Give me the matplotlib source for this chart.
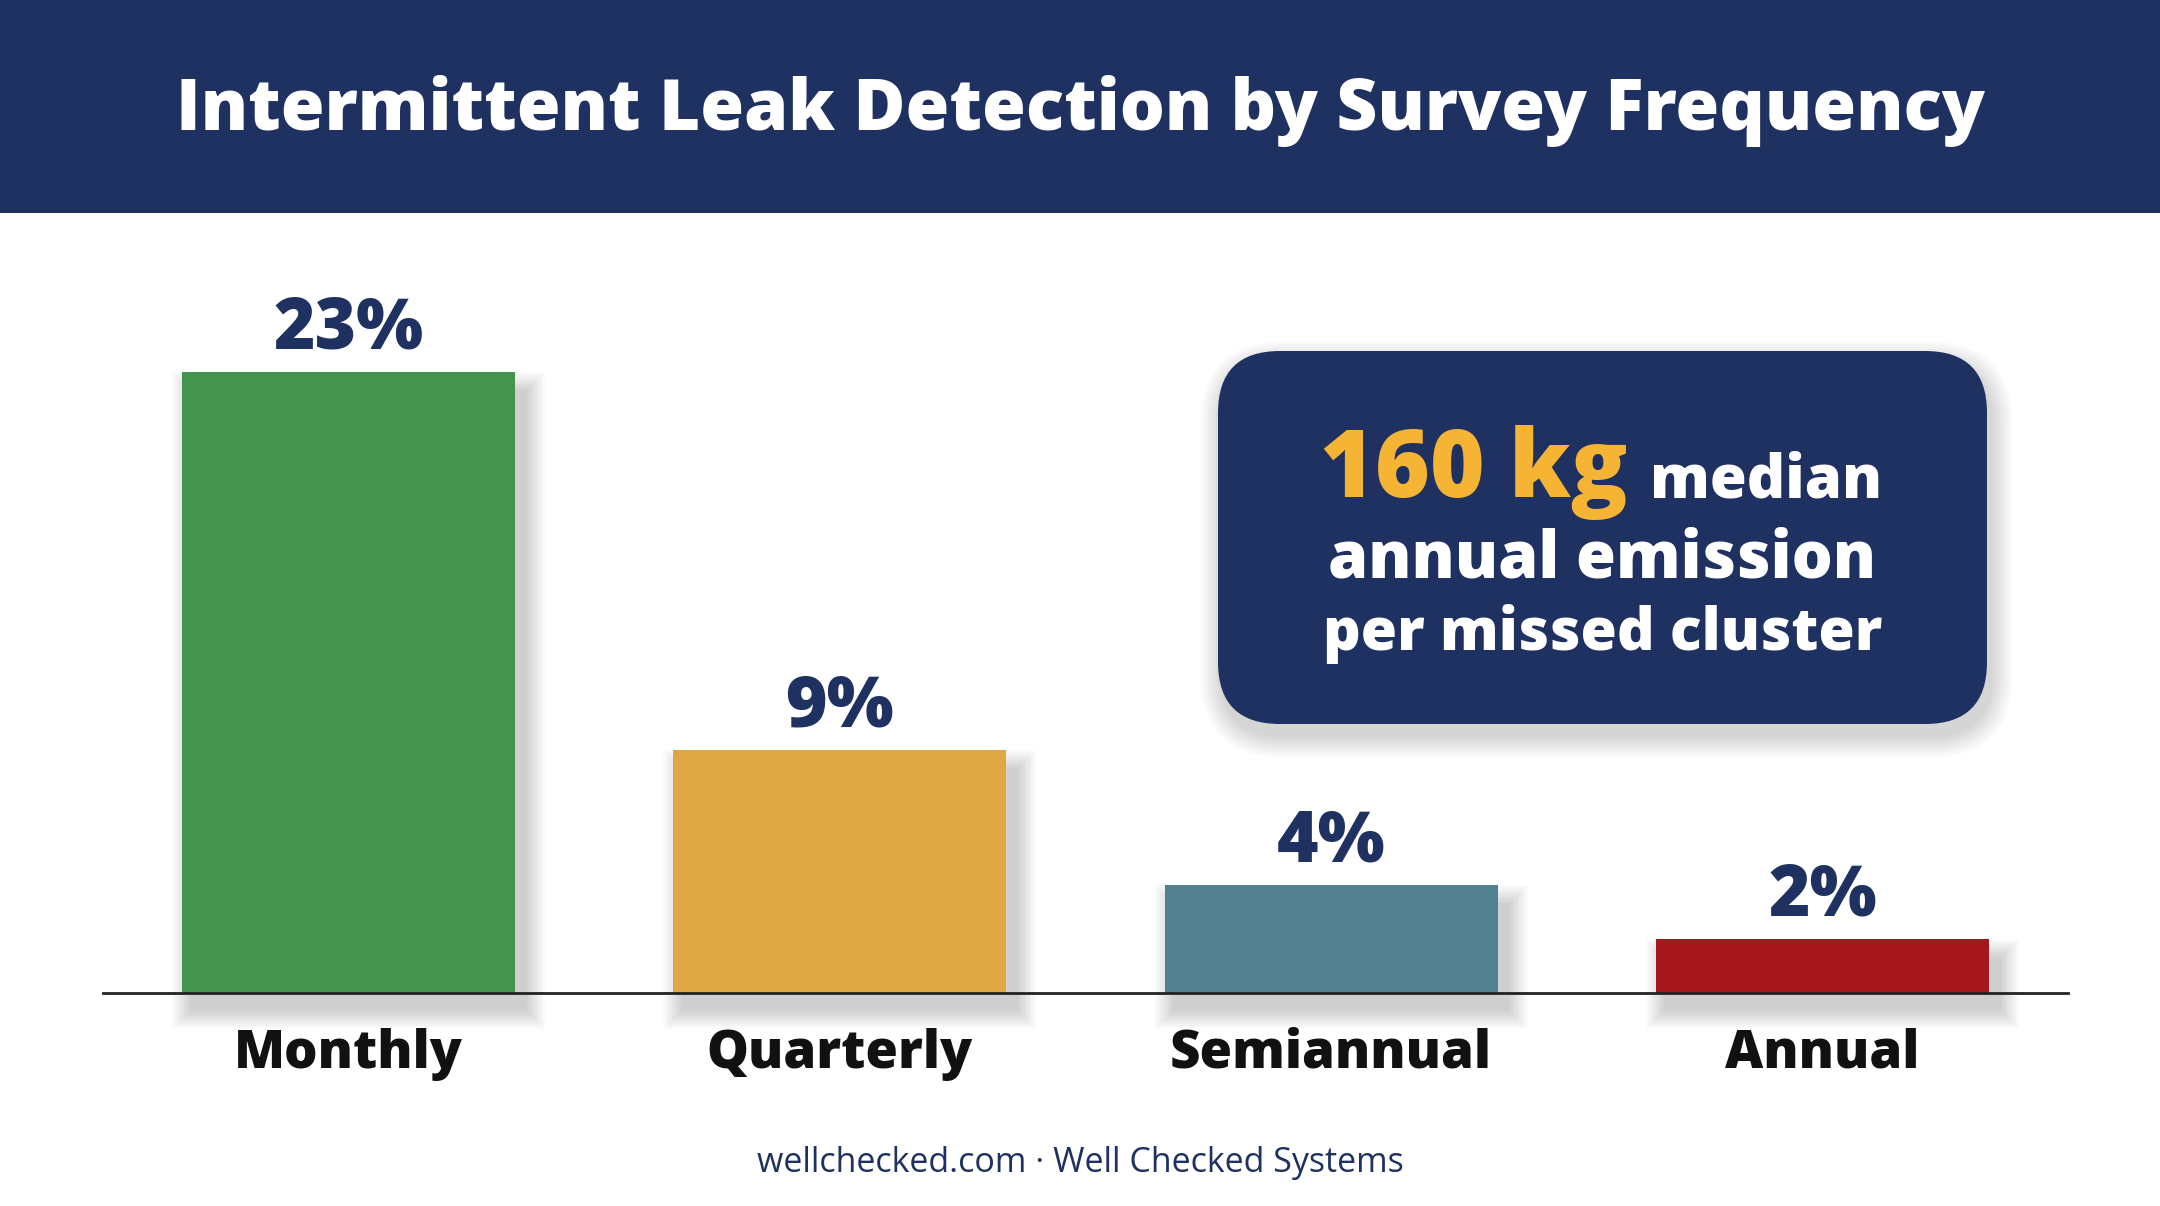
import matplotlib
matplotlib.use("Agg")
import matplotlib.pyplot as plt
from matplotlib.patches import Rectangle, FancyBboxPatch

# ---- data ----
categories = ["Monthly", "Quarterly", "Semiannual", "Annual"]
detection_pct = [23, 9, 4, 2]
bar_colors = ["#44934f", "#e0a843", "#52808f", "#a5161d"]
value_labels = [f"{v}%" for v in detection_pct]
title = "Intermittent Leak Detection by Survey Frequency"
callout_big = "160 kg"
callout_lines = ["median", "annual emission", "per missed cluster"]
footer = "wellchecked.com \u00b7 Well Checked Systems"

NAVY = "#1f3161"
YELLOW = "#f6b434"
FONT = "Open Sans"
HEAVY = 800

W, H = 2160, 1206
fig = plt.figure(figsize=(W / 100, H / 100), dpi=100)
fig.patch.set_facecolor("white")

# background / annotation layer in pixel coordinates (y downward)
bg = fig.add_axes([0, 0, 1, 1], zorder=0)
bg.set_xlim(0, W)
bg.set_ylim(H, 0)
bg.axis("off")

# title band
bg.add_patch(Rectangle((0, 0), W, 213, facecolor=NAVY, edgecolor="none"))
bg.text(W / 2, 130, title, color="white", fontsize=51, fontweight=HEAVY,
        family=FONT, ha="center", va="baseline")

# callout box with soft shadow
bx0, by0, bx1, by1 = 1218, 351, 1987, 724
for k in range(14):
    e = 22 * (1 - k / 14)
    bg.add_patch(FancyBboxPatch((bx0 + 4 - e, by0 + 12 - e), bx1 - bx0 + 2 * e, by1 - by0 + 2 * e,
                                boxstyle=f"round,pad=0,rounding_size={62 + e}",
                                facecolor="black", edgecolor="none", alpha=0.012))
bg.add_patch(FancyBboxPatch((bx0, by0), bx1 - bx0, by1 - by0,
                            boxstyle="round,pad=0,rounding_size=62",
                            facecolor=NAVY, edgecolor="none"))
cx = (bx0 + bx1) / 2
bg.text(1628, 497, callout_big, color=YELLOW, fontsize=67.5, fontweight=HEAVY,
        family=FONT, ha="right", va="baseline")
bg.text(1650, 497, callout_lines[0], color="white", fontsize=43, fontweight=HEAVY,
        family=FONT, ha="left", va="baseline")
bg.text(cx, 578, callout_lines[1], color="white", fontsize=46.5, fontweight=HEAVY,
        family=FONT, ha="center", va="baseline")
bg.text(cx, 650, callout_lines[2], color="white", fontsize=42.3, fontweight=HEAVY,
        family=FONT, ha="center", va="baseline")

# footer
bg.text(W / 2, 1172, footer, color=NAVY, fontsize=24.5, family=FONT,
        ha="center", va="baseline")

# ---- bar chart ----
ax = fig.add_axes([103 / W, (H - 993) / H, 1965 / W, 702 / H], zorder=1)
ax.patch.set_alpha(0)
ax.set_xlim(-0.5, 3.5)
ax.set_ylim(0, 26)
bar_w = 0.678
x = list(range(len(categories)))

# shadows (in data units, converted from pixels)
px_x = 1965 / 4.0
px_y = 702 / 26.0
for xi, v in zip(x, detection_pct):
    n = 12
    for k in range(n):
        e = 20 * (1 - k / n)
        ex, ey = e / px_x, e / px_y
        ax.add_patch(Rectangle((xi - bar_w / 2 + 10 / px_x - ex, -16 / px_y - ey),
                               bar_w + 2 * ex, v - 4 / px_y + 2 * ey,
                               facecolor="black", edgecolor="none", alpha=0.014,
                               clip_on=False, zorder=1))

ax.bar(x, detection_pct, width=bar_w, color=bar_colors, zorder=2)

for xi, v, lab in zip(x, detection_pct, value_labels):
    ax.annotate(lab, xy=(xi, v), xytext=(0, 17), textcoords="offset points",
                ha="center", va="baseline", fontsize=51, fontweight=HEAVY,
                color=NAVY, family=FONT, zorder=3)

ax.set_xticks(x)
ax.set_xticklabels(categories, fontsize=38, fontweight=HEAVY, family=FONT,
                   color="#111111", va="baseline")
ax.tick_params(axis="x", length=0, pad=54)
ax.set_yticks([])
for s in ["top", "right", "left"]:
    ax.spines[s].set_visible(False)
ax.spines["bottom"].set_color("#222222")
ax.spines["bottom"].set_linewidth(2)
ax.spines["bottom"].set_zorder(4)

fig.savefig("out.png", dpi=100)
